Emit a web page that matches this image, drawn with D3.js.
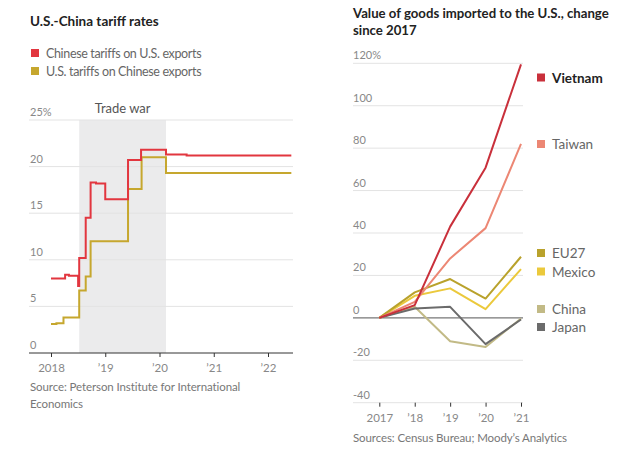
<!DOCTYPE html>
<html><head><meta charset="utf-8">
<script src="https://cdn.jsdelivr.net/npm/d3@7/dist/d3.min.js"></script>
<style>
body{margin:0;background:#fff;}
svg{display:block;font-family:Lato, "Open Sans", sans-serif;}
</style></head>
<body><svg id="c" width="640" height="457"></svg>
<script>
// ---- Left chart data ----
const chnDates = [2018.0, 2018.26, 2018.33, 2018.50, 2018.52, 2018.64, 2018.73, 2018.83, 2019.0, 2019.42, 2019.66, 2020.12, 2020.5, 2022.43];
const chnValues = [8.0, 8.4, 8.3, 7.2, 10.2, 14.5, 18.3, 18.2, 16.5, 20.7, 21.8, 21.3, 21.2, 21.2];
const usDates = [2018.0, 2018.1, 2018.23, 2018.52, 2018.64, 2018.73, 2019.42, 2019.67, 2020.12, 2022.43];
const usValues = [3.1, 3.2, 3.8, 6.7, 8.2, 12.0, 17.6, 21.0, 19.3, 19.3];
const tradeWar = [2018.52, 2020.12];
const leftYTicks = [0, 5, 10, 15, 20, 25];
const leftXTicks = [2018, 2019, 2020, 2021, 2022];
const leftXLabels = ["2018", "\u201919", "\u201920", "\u201921", "\u201922"];

// ---- Right chart data ----
const years = [2017, 2018, 2019, 2020, 2021];
const yearLabels = ["2017", "\u201918", "\u201919", "\u201920", "\u201921"];
const countries = ["Vietnam", "Taiwan", "EU27", "Mexico", "China", "Japan"];
const vietnam = [0, 6, 43, 70.8, 119.5];
const taiwan = [0, 7.5, 28, 42.3, 82];
const eu27 = [0, 12, 18.3, 9.1, 28.8];
const mexico = [0, 10.4, 13.9, 4.1, 23];
const china = [0, 5.2, -11, -13.7, -0.3];
const japan = [0, 4.4, 5.2, -12.4, -0.8];
const rightYTicks = [-40, -20, 0, 20, 40, 60, 80, 100, 120];

const svg = d3.select("#c");
const grid = "#e3e3e3";
const lab = "#888";

// ===== LEFT =====
const xL = d3.scaleLinear().domain([2018, 2022]).range([51, 268]);
const yL = d3.scaleLinear().domain([0, 25]).range([353, 120]);

svg.append("text").attr("x", 30).attr("y", 26).attr("font-size", 13.5).attr("font-weight", 700).attr("fill", "#222").text("U.S.-China tariff rates");

const legL = [["Chinese tariffs on U.S. exports", "#e2363f"], ["U.S. tariffs on Chinese exports", "#c6a72e"]];
legL.forEach((d, i) => {
  svg.append("rect").attr("x", 31).attr("y", 49 + i * 18).attr("width", 8).attr("height", 8).attr("fill", d[1]);
  svg.append("text").attr("x", 46).attr("y", 57.5 + i * 18).attr("font-size", 12.5).attr("letter-spacing", -0.35).attr("fill", "#666").text(d[0]);
});

svg.append("rect").attr("x", xL(tradeWar[0])).attr("y", yL(25)).attr("width", xL(tradeWar[1]) - xL(tradeWar[0])).attr("height", yL(0) - yL(25)).attr("fill", "#ebebec");
svg.append("text").attr("x", (xL(tradeWar[0]) + xL(tradeWar[1])) / 2).attr("y", 113).attr("text-anchor", "middle").attr("font-size", 13).attr("fill", "#555").text("Trade war");

leftYTicks.forEach(t => {
  if (t > 0) svg.append("line").attr("x1", 29).attr("x2", 293).attr("y1", yL(t)).attr("y2", yL(t)).attr("stroke", grid);
  svg.append("text").attr("x", 30).attr("y", yL(t) - 4).attr("font-size", 11).attr("fill", lab).text(t === 25 ? "25%" : t);
});

const axL = d3.axisBottom(xL).tickValues(leftXTicks).tickSize(4).tickFormat((d, i) => leftXLabels[i]);
const gL = svg.append("g").attr("transform", `translate(0,${yL(0)})`).call(axL);
gL.select(".domain").remove();
gL.selectAll(".tick line").attr("stroke", "#333");
gL.selectAll(".tick text").attr("font-size", 11.5).attr("fill", lab).attr("font-family", "Lato, sans-serif").attr("dy", "1.05em");
svg.append("line").attr("x1", 29).attr("x2", 293).attr("y1", yL(0)).attr("y2", yL(0)).attr("stroke", "#333");

const lineL = d3.line().x(d => xL(d[0])).y(d => yL(d[1])).curve(d3.curveStepAfter);
svg.append("path").datum(usDates.map((d, i) => [d, usValues[i]])).attr("d", lineL).attr("fill", "none").attr("stroke", "#c6a72e").attr("stroke-width", 2);
svg.append("path").datum(chnDates.map((d, i) => [d, chnValues[i]])).attr("d", lineL).attr("fill", "none").attr("stroke", "#e2363f").attr("stroke-width", 2);

svg.append("text").attr("x", 30).attr("y", 391).attr("font-size", 11.5).attr("letter-spacing", -0.1).attr("fill", "#777").text("Source: Peterson Institute for International");
svg.append("text").attr("x", 30).attr("y", 408).attr("font-size", 11.5).attr("letter-spacing", -0.1).attr("fill", "#777").text("Economics");

// ===== RIGHT =====
const xR = d3.scaleLinear().domain([2017, 2021]).range([379.3, 521]);
const yR = d3.scaleLinear().domain([-40, 120]).range([402.7, 63.3]);

svg.append("text").attr("x", 353).attr("y", 18).attr("font-size", 13.2).attr("font-weight", 700).attr("fill", "#222").text("Value of goods imported to the U.S., change");
svg.append("text").attr("x", 353).attr("y", 35).attr("font-size", 13.2).attr("font-weight", 700).attr("fill", "#222").text("since 2017");

rightYTicks.forEach(t => {
  if (t !== 0) svg.append("line").attr("x1", 353).attr("x2", 523).attr("y1", yR(t)).attr("y2", yR(t)).attr("stroke", grid);
  svg.append("text").attr("x", 353).attr("y", yR(t) - 4).attr("font-size", 11).attr("fill", lab).text(t === 120 ? "120%" : t);
});

const axR = d3.axisBottom(xR).tickValues(years).tickSize(4).tickFormat((d, i) => yearLabels[i]);
const gR = svg.append("g").attr("transform", `translate(0,${yR(-40)})`).call(axR);
gR.select(".domain").remove();
gR.selectAll(".tick line").attr("stroke", "#333");
gR.selectAll(".tick text").attr("font-size", 11.5).attr("fill", lab).attr("font-family", "Lato, sans-serif").attr("dy", "1.05em");

svg.append("line").attr("x1", 353).attr("x2", 523).attr("y1", yR(0)).attr("y2", yR(0)).attr("stroke", "#777").attr("stroke-width", 1.2);

const series = [
  { name: "China", vals: china, color: "#c2ba86", ly: 309 },
  { name: "Japan", vals: japan, color: "#6b6b6b", ly: 327 },
  { name: "Mexico", vals: mexico, color: "#ebc93c", ly: 271.5 },
  { name: "EU27", vals: eu27, color: "#b9a22c", ly: 253 },
  { name: "Taiwan", vals: taiwan, color: "#ec8774", ly: 144 },
  { name: "Vietnam", vals: vietnam, color: "#c9303b", ly: 77.5 }
];
const lineR = d3.line().x((d, i) => xR(years[i])).y(d => yR(d));
series.forEach(s => {
  svg.append("path").datum(s.vals).attr("d", lineR).attr("fill", "none").attr("stroke", s.color).attr("stroke-width", 2).attr("stroke-linejoin", "round");
});
series.forEach(s => {
  svg.append("rect").attr("x", 537).attr("y", s.ly - 4).attr("width", 8).attr("height", 8).attr("fill", s.color);
  svg.append("text").attr("x", 552).attr("y", s.ly + 5).attr("font-size", 13.5)
    .attr("font-weight", s.name === "Vietnam" ? 700 : 400)
    .attr("fill", s.name === "Vietnam" ? "#222" : "#666").text(s.name);
});

svg.append("text").attr("x", 353).attr("y", 442).attr("font-size", 11.5).attr("letter-spacing", -0.1).attr("fill", "#777").text("Sources: Census Bureau; Moody\u2019s Analytics");
</script></body></html>
